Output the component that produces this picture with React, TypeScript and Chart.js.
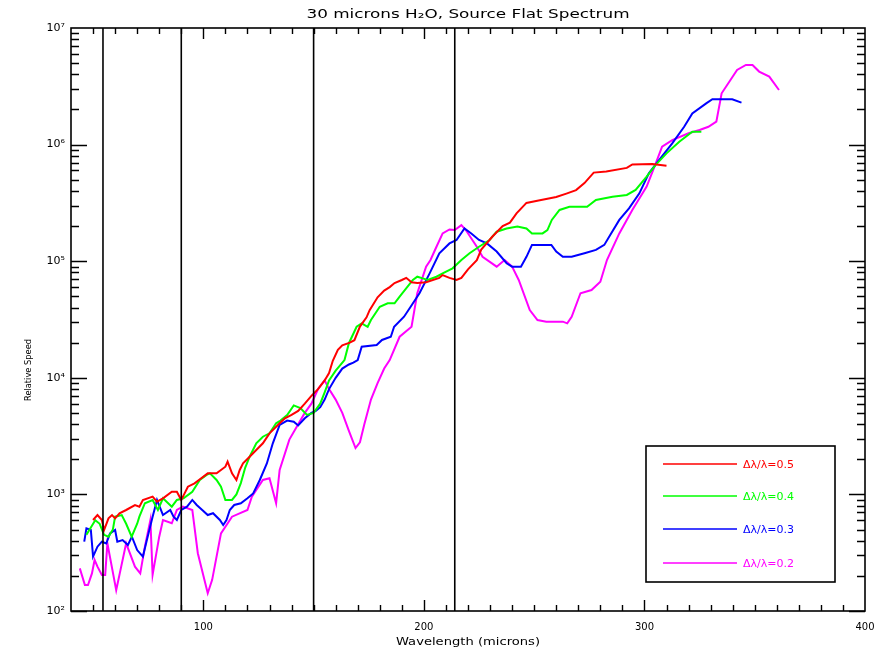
import React, { useEffect, useRef } from "react";
import { Chart, registerables } from "chart.js";

Chart.register(...registerables);

// ---------------- data ----------------
const redX = [50, 52, 54, 55, 57, 58.6, 60, 62, 65, 69, 71, 72.6, 77, 79, 81.7, 85.7, 88, 90, 91.5, 93, 96, 98, 102, 106, 110, 111, 113, 115, 116.5, 118, 121, 124, 127, 130, 134.6, 137, 140, 143, 146, 149, 152, 155, 157,
  158.7, 161, 163, 166.4, 168.5, 171, 174, 175.4, 179, 182, 184.5, 186.7, 190, 192, 194.4, 197, 201, 207, 208.5, 211.6, 214.8, 217, 220, 224, 226, 231, 235.7, 239, 242, 246.5, 252, 260, 264.6, 269, 272.8, 277, 282.7, 292, 294.5, 303.6, 310];
const redY = [603, 665, 603, 495, 623, 665, 623, 689, 735, 811, 785, 896, 957, 867, 926, 1055, 1055, 896, 1020, 1164, 1245, 1329, 1515, 1515, 1729, 1908, 1515, 1329, 1619, 1844, 2104, 2402, 2742, 3340, 4070, 4500, 4800, 5200, 6000, 7000, 8000, 9500, 11000,
  14000, 17400, 19000, 20000, 21000, 27500, 33000, 38000, 49000, 56000, 60000, 65000, 69000, 72000, 66000, 65000, 66000, 72000, 76000, 72000, 69000, 72000, 85000, 102000, 126000, 162000, 200000, 214000, 257000, 316000, 331000, 355000, 380000, 407000, 468000, 575000, 589000, 631000, 676000, 682000, 660000];

const greenX = [47, 49, 51, 53, 55, 57, 59, 60, 63, 65, 67.5, 70, 71, 73.5, 77, 79.4, 81.7, 85.7, 88, 91, 95, 98.4, 101.5, 103, 106, 108, 110, 113, 115, 117, 119, 121, 124, 127, 130, 133, 135, 138, 141, 144, 147, 150, 153, 155, 157, 160,
  164, 166, 169.5, 171.8, 174.5, 176, 180, 183.6, 186.7, 189, 192.6, 195, 197, 199.5, 201.7, 205.7, 208.5, 213, 217, 220.7, 225, 229.8, 233, 237.5, 242.4, 246.5, 249, 253.8, 256, 258, 261.5, 266, 274, 278, 285.5, 292, 296, 301, 305, 310, 315.8, 321.7, 325.8];
const greenY = [450, 520, 600, 560, 450, 434, 500, 644, 665, 560, 434, 560, 644, 840, 896, 735, 926, 785, 896, 926, 1055, 1329, 1470, 1515, 1329, 1164, 896, 896, 1000, 1250, 1700, 2104, 2742, 3125, 3340, 4070, 4300, 4800, 5800, 5500, 4800, 5000, 6000, 7500, 9500, 11500,
  14200, 19800, 27400, 29300, 27400, 31300, 40700, 43500, 43500, 49700, 60400, 69000, 73600, 71300, 69000, 73600, 78700, 86900, 102400, 117000, 133000, 152000, 179000, 191000, 198000, 191000, 173000, 173000, 185000, 226000, 275000, 293000, 293000, 335000, 357000, 370000, 408000, 531000, 668000, 841000, 1059000, 1290000, 1290000];

const blueX = [46, 47, 49, 50, 52, 54, 56, 57.7, 60, 61, 63.4, 65.8, 67.6, 70, 72.6, 74.4, 77, 79, 80.5, 81.7, 85, 86.5, 88, 90, 92.6, 95, 97, 99.5, 102, 104.4, 107.5, 109, 110.5, 112, 114, 117, 120, 122.6, 125.6, 128.8, 131.5, 134.6, 138, 141, 143, 146, 149, 151, 153, 155, 157, 160, 163, 166, 168,
  170, 171.8, 178.6, 181, 185, 186.5, 191, 194, 198, 202.6, 207, 211.6, 214.8, 218.4, 221.5, 225, 228.6, 233, 237.5, 240, 244, 246.5, 249, 257.8, 260, 263, 267, 272.8, 278, 281.8, 284, 288.6, 293, 297.7, 302, 306.7, 312.6, 318, 321.7, 328, 330.8, 339.8, 344];
const blueY = [393, 512, 495, 293, 356, 393, 380, 463, 495, 393, 406, 368, 434, 333, 293, 406, 644, 896, 760, 665, 735, 644, 603, 735, 785, 896, 811, 735, 665, 689, 603, 547, 603, 735, 811, 840, 926, 1020, 1329, 1844, 2742, 3950, 4300, 4200, 3900, 4500, 5000, 5200, 5600, 6500, 8000, 10000, 12000, 13000, 13500,
  14200, 18500, 19100, 21100, 22500, 27400, 33400, 40700, 53100, 78700, 117000, 142000, 152000, 191000, 173000, 152000, 142000, 121000, 96000, 89800, 89800, 109000, 138000, 138000, 121000, 109000, 109000, 117000, 125000, 138000, 162000, 226000, 284000, 382000, 567000, 740000, 1026000, 1423000, 1852000, 2258000, 2447000, 2447000, 2290000];

const magentaX = [44, 46.3, 47.7, 49.5, 50.7, 52, 54, 55.5, 56.5, 60.5, 65, 69, 71.4, 73.5, 76, 77, 80, 81.7, 85.7, 88, 90.7, 95, 97.5, 102, 104, 108, 113, 120, 122, 127, 130, 133, 134.6, 139, 143, 146, 149, 152, 155, 157, 160, 163, 166, 169, 171, 173, 176, 179, 182,
  184.5, 189, 194.4, 197, 201, 203, 205.7, 208.5, 211.6, 214, 217, 219, 224, 226.6, 233, 236.6, 240, 243, 248, 251.5, 255.5, 263, 265, 267, 271, 276, 280, 283, 288.6, 294.5, 301, 305, 308, 312.6, 320, 325, 329, 332.6, 335, 339, 342, 346, 349, 352, 356.6, 361];
const magentaY = [232, 167, 167, 210, 274, 240, 204, 204, 380, 151, 380, 240, 210, 356, 603, 204, 434, 603, 565, 735, 785, 735, 313, 142, 185, 463, 644, 735, 957, 1329, 1374, 840, 1619, 2950, 4000, 5000, 6000, 8000, 9500, 8000, 6500, 5000, 3500, 2500, 2800, 4000, 6500, 9000, 12000,
  14200, 22500, 27400, 53100, 89800, 102400, 133000, 173000, 187000, 185000, 204000, 185000, 133000, 109000, 89800, 102400, 89800, 69000, 38100, 31300, 30300, 30300, 29300, 33400, 53100, 56600, 66700, 102400, 173000, 275000, 436000, 680000, 960000, 1094000, 1250000, 1334000, 1423000, 1575000, 2754000, 3580000, 4365000, 4820000, 4820000, 4230000, 3830000, 2940000];

const verticalLinesX = [54.5, 90, 150, 214];
const xTickValues = [100, 200, 300, 400];
const yTickExponents = [2, 3, 4, 5, 6, 7];
const seriesLabels = ["\u0394\u03bb/\u03bb=0.5", "\u0394\u03bb/\u03bb=0.4", "\u0394\u03bb/\u03bb=0.3", "\u0394\u03bb/\u03bb=0.2"];
const seriesColors = ["#ff0000", "#00ff00", "#0000ff", "#ff00ff"];
const titleText = "30 microns H\u2082O, Source Flat Spectrum";
const xTitle = "Wavelength (microns)";
const yTitle = "Relative Speed";

const SUP: Record<string, string> = { "0": "\u2070", "1": "\u00b9", "2": "\u00b2", "3": "\u00b3", "4": "\u2074", "5": "\u2075", "6": "\u2076", "7": "\u2077", "8": "\u2078", "9": "\u2079" };

function pts(xs: number[], ys: number[]) {
  return xs.map((x, i) => ({ x, y: ys[i] }));
}

const FONT = "'DejaVu Sans', sans-serif";

function drawStretched(ctx: CanvasRenderingContext2D, text: string, cx: number, cy: number, width: number, rot = 0) {
  const w = ctx.measureText(text).width;
  const sx = width / w;
  ctx.save();
  ctx.translate(cx, cy);
  if (rot) ctx.rotate(rot);
  ctx.scale(sx, 1);
  ctx.textAlign = "center";
  ctx.textBaseline = "middle";
  ctx.fillText(text, 0, 0);
  ctx.restore();
}

const framePlugin = {
  id: "idlFrame",
  afterDraw(chart: any) {
    const { ctx, chartArea } = chart;
    const { left, right, top, bottom } = chartArea;
    const xs = chart.scales.x;
    const ys = chart.scales.y;
    ctx.save();
    ctx.strokeStyle = "#000";
    ctx.lineWidth = 1.6;
    ctx.strokeRect(left, top, right - left, bottom - top);
    ctx.lineWidth = 1.4;
    // x ticks
    for (let v = 50; v < 400; v += 10) {
      const p = Math.round(xs.getPixelForValue(v)) + 0.5;
      const len = v % 100 === 0 ? 11 : 6;
      ctx.beginPath();
      ctx.moveTo(p, bottom);
      ctx.lineTo(p, bottom - len);
      ctx.moveTo(p, top);
      ctx.lineTo(p, top + len);
      ctx.stroke();
    }
    // y ticks
    for (let n = 2; n < 7; n++) {
      for (let m = 1; m <= 9; m++) {
        const v = m * Math.pow(10, n);
        const p = Math.round(ys.getPixelForValue(v)) + 0.5;
        const len = m === 1 ? 16 : 8;
        ctx.beginPath();
        ctx.moveTo(left, p);
        ctx.lineTo(left + len, p);
        ctx.moveTo(right, p);
        ctx.lineTo(right - len, p);
        ctx.stroke();
      }
    }
    // titles
    ctx.fillStyle = "#000";
    ctx.font = `13px ${FONT}`;
    drawStretched(ctx, titleText, (left + right) / 2, 15, 323);
    ctx.font = `10px ${FONT}`;
    drawStretched(ctx, xTitle, (left + right) / 2, 642, 144);
    ctx.font = `9px ${FONT}`;
    drawStretched(ctx, yTitle, 29, 370, 62, -Math.PI / 2);
    // legend box
    const bl = right - 219;
    const br = right - 30;
    const bt = bottom - 165;
    const bb = bottom - 29;
    ctx.lineWidth = 1.6;
    ctx.strokeStyle = "#000";
    ctx.strokeRect(bl, bt, br - bl, bb - bt);
    const rows = [18, 50, 83, 117];
    ctx.font = `11px ${FONT}`;
    ctx.textAlign = "left";
    ctx.textBaseline = "middle";
    seriesLabels.forEach((lab, i) => {
      const y = bt + rows[i];
      ctx.strokeStyle = seriesColors[i];
      ctx.lineWidth = 1.6;
      ctx.beginPath();
      ctx.moveTo(bl + 17, y);
      ctx.lineTo(bl + 91, y);
      ctx.stroke();
      ctx.fillStyle = seriesColors[i];
      ctx.fillText(lab, bl + 97, y + 1);
    });
    ctx.restore();
  },
};

export default function App() {
  const ref = useRef<HTMLCanvasElement | null>(null);
  useEffect(() => {
    document.body.style.margin = "0";
    const canvas = ref.current;
    if (!canvas) return;
    const curves = [
      pts(redX, redY),
      pts(greenX, greenY),
      pts(blueX, blueY),
      pts(magentaX, magentaY),
    ].map((data, i) => ({
      label: seriesLabels[i],
      data,
      borderColor: seriesColors[i],
      backgroundColor: seriesColors[i],
      borderWidth: 2,
      pointRadius: 0,
      tension: 0,
      fill: false,
    }));
    const vlines = verticalLinesX.map((x) => ({
      label: "line" + x,
      data: [{ x, y: 100 }, { x, y: 1e7 }],
      borderColor: "#000",
      borderWidth: 1.6,
      pointRadius: 0,
      fill: false,
    }));
    const chart = new Chart(canvas, {
      type: "line",
      data: { datasets: [...vlines, ...curves] as any },
      options: {
        animation: false,
        responsive: false,
        events: [],
        layout: { padding: { top: 28, right: 29, left: 0, bottom: 0 } },
        plugins: { legend: { display: false }, tooltip: { enabled: false }, title: { display: false } },
        scales: {
          x: {
            type: "linear",
            min: 40,
            max: 400,
            grid: { display: false, drawTicks: false },
            border: { display: false },
            afterBuildTicks: (s: any) => {
              s.ticks = xTickValues.map((v) => ({ value: v }));
            },
            afterFit: (s: any) => {
              s.height = 44;
            },
            ticks: {
              autoSkip: false,
              maxRotation: 0,
              padding: 10,
              color: "#000",
              font: { family: FONT, size: 10 },
              callback: (v: any) => String(v),
            },
          },
          y: {
            type: "logarithmic",
            min: 100,
            max: 1e7,
            grid: { display: false, drawTicks: false },
            border: { display: false },
            afterBuildTicks: (s: any) => {
              s.ticks = yTickExponents.map((n) => ({ value: Math.pow(10, n) }));
            },
            afterFit: (s: any) => {
              s.width = 71;
            },
            ticks: {
              autoSkip: false,
              padding: 6,
              color: "#000",
              font: { family: FONT, size: 11 },
              callback: (v: any) => {
                const n = Math.round(Math.log10(Number(v)));
                return "10" + String(n).split("").map((c) => SUP[c]).join("");
              },
            },
          },
        },
      },
      plugins: [framePlugin],
    });
    return () => chart.destroy();
  }, []);
  return (
    <div style={{ width: 894, height: 655, position: "relative", background: "#fff" }}>
      <canvas ref={ref} width={894} height={655} style={{ display: "block" }} />
    </div>
  );
}
